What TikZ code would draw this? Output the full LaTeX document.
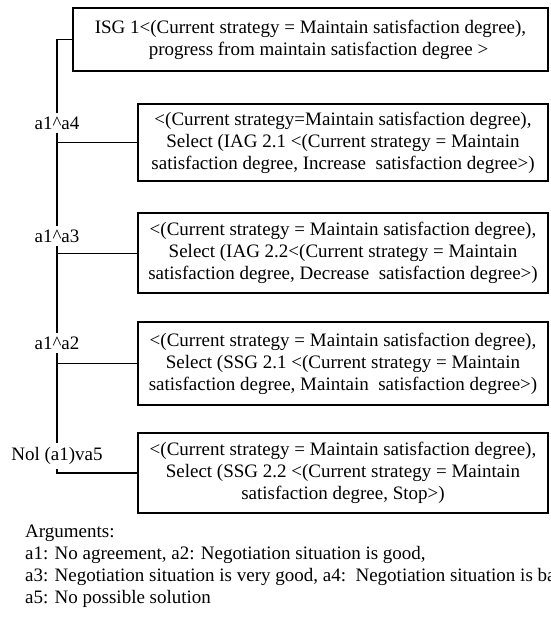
\documentclass[tikz,border=0pt]{standalone}
\usepackage{fontspec}
\setmainfont{Liberation Serif}
\begin{document}
\begin{tikzpicture}[x=1pt,y=-1pt,
    every node/.style={font=\fontsize{19}{22}\selectfont},
    goalbox/.style={draw, line width=1.3pt, rectangle, align=center, inner sep=0pt},
    cond/.style={fill=white, inner xsep=1pt, inner ysep=4pt},
    link/.style={line width=1.2pt},
    note/.style={anchor=west, inner sep=0pt}]
  \useasboundingbox (0,0) rectangle (550,621);
  \clip (0,0) rectangle (550,621);

  % goal boxes
  \node[goalbox, minimum width=475pt, minimum height=63pt] (b1) at (310.5,39.5)
    {ISG 1<(Current strategy = Maintain satisfaction degree),\\
     \hspace*{16pt}progress from maintain satisfaction degree >};
  \node[goalbox, minimum width=410pt, minimum height=77pt] (b2) at (343,142.5)
    {<(Current strategy=Maintain satisfaction degree),\\
     Select (IAG 2.1 <(Current strategy = Maintain\\
     satisfaction degree, Increase\ \ satisfaction degree>)};
  \node[goalbox, minimum width=410pt, minimum height=80pt] (b3) at (343,253)
    {<(Current strategy = Maintain satisfaction degree),\\
     Select (IAG 2.2<(Current strategy = Maintain\\
     satisfaction degree, Decrease\ \ satisfaction degree>)};
  \node[goalbox, minimum width=410pt, minimum height=83pt] (b4) at (343,363.5)
    {<(Current strategy = Maintain satisfaction degree),\\
     Select (SSG 2.1 <(Current strategy = Maintain\\
     satisfaction degree, Maintain\ \ satisfaction degree>)};
  \node[goalbox, minimum width=410pt, minimum height=80pt] (b5) at (343,473)
    {<(Current strategy = Maintain satisfaction degree),\\
     Select (SSG 2.2 <(Current strategy = Maintain\\
     satisfaction degree, Stop>)};

  % decision trunk and branches
  \coordinate (j0) at (57,39.5);
  \coordinate (j5) at (57,473);
  \draw[link] (b1.west) -- (j0) -- (j5) -- (b5.west);
  \draw[link] (57,142.5) -- (b2.west);
  \draw[link, line width=0.9pt] (57,253) -- (b3.west);
  \draw[link] (57,363.5) -- (b4.west);

  % branch conditions
  \node[cond] (c1) at (57,123) {a1\textasciicircum a4};
  \node[cond] (c2) at (57,236) {a1\textasciicircum a3};
  \node[cond] (c3) at (57,343) {a1\textasciicircum a2};
  \node[cond] (c4) at (57,456) {Nol (a1)va5};

  % argument legend
  \node[note] (n0) at (25,533) {Arguments:};
  \node[note] (n1) at (25,555) {a1: No agreement, a2: Negotiation situation is good,};
  \node[note] (n2) at (25,577) {a3: Negotiation situation is very good, a4:\ \ Negotiation situation is bad};
  \node[note] (n3) at (25,599) {a5: No possible solution};
\end{tikzpicture}
\end{document}
